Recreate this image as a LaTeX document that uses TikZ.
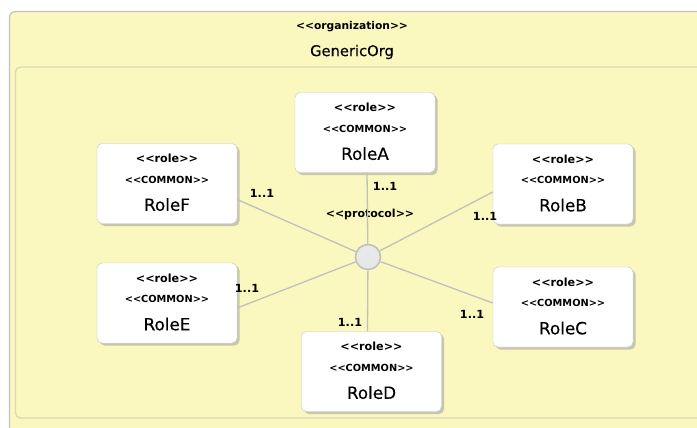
\documentclass[tikz,border=0pt]{standalone}
\usepackage{fontspec}
\setmainfont{DejaVu Sans}
\newfontfamily\medfont{DejaVu Sans}[FakeBold=0.3]
\usetikzlibrary{shadows}

\definecolor{orgfill}{RGB}{250,248,190}
\definecolor{orgline}{RGB}{192,192,188}
\definecolor{innerline}{RGB}{218,216,182}
\definecolor{connline}{RGB}{192,192,188}
\definecolor{hubfill}{RGB}{232,232,232}
\definecolor{boxline}{RGB}{200,200,200}

% angle-bracket stereotype, kept as separate characters
\newcommand{\stype}[1]{<\kern0pt<\kern0pt#1\kern0pt>\kern0pt>}

\tikzset{
  rolebox/.style={draw=boxline, fill=white, rounded corners=5pt,
    minimum width=140pt, minimum height=80pt, inner sep=0pt,
    drop shadow={shadow xshift=2.5pt, shadow yshift=-2.5pt, fill=black!35, opacity=0.6}},
  stereo/.style={font=\fontsize{11.2}{13}\selectfont\bfseries, anchor=base, inner sep=0pt},
  kindtag/.style={font=\fontsize{9.8}{12}\selectfont\bfseries, anchor=base, inner sep=0pt},
  rolename/.style={font=\fontsize{16.8}{20}\selectfont\medfont, anchor=base, inner sep=0pt},
  mult/.style={font=\fontsize{11.2}{13}\selectfont\bfseries, inner sep=0pt},
  connector/.style={draw=connline, line width=1.3pt},
  hubnode/.style={circle, draw=connline, fill=hubfill, line width=1.6pt, minimum size=25pt, inner sep=0pt},
}

% a role box with its stereotype, tag and name
\newcommand{\rolenode}[3]{%
  \node[rolebox] (#1) at (#2) {};
  \node[stereo] (#1-s) at ([yshift=-19.5pt]#1.north) {\stype{role}};
  \node[kindtag] (#1-k) at ([yshift=-40pt]#1.north) {\stype{COMMON}};
  \node[rolename] (#1-n) at ([yshift=-67.5pt]#1.north) {#3};
}

\begin{document}
\begin{tikzpicture}[x=1pt, y=-1pt]
  \useasboundingbox (0,0) rectangle (697,428);
  \clip (0,0) rectangle (697,428);
  \fill[white] (0,0) rectangle (697,428);

  % organization frame
  \draw[orgline, fill=orgfill, line width=1.2pt, rounded corners=6pt] (9.5,11.5) rectangle (720,445);
  \draw[innerline, line width=1.4pt, rounded corners=5pt] (15.5,67) rectangle (715,418);
  \node[font=\fontsize{10.7}{13}\selectfont\bfseries] (orgstereo) at (352,27) {\stype{organization}};
  \node[font=\fontsize{14.7}{17}\selectfont\medfont] (orgname) at (352,52) {GenericOrg};

  % protocol hub
  \node[hubnode] (hub) at (368,257) {};
  \node[mult, font=\fontsize{11}{13}\selectfont\bfseries] (proto) at (370,214) {\stype{protocol}};

  % roles
  \rolenode{A}{365,132.5}{RoleA}
  \rolenode{F}{167,183.5}{RoleF}
  \rolenode{E}{167,303}{RoleE}
  \rolenode{D}{371.5,371.5}{RoleD}
  \rolenode{B}{563,184}{RoleB}
  \rolenode{C}{563,307}{RoleC}

  % connectors
  \draw[connector] (hub) -- ([xshift=2pt]A.south);
  \draw[connector] (hub) -- ([yshift=-16pt]F.east);
  \draw[connector] (hub) -- ([yshift=-5pt]E.east);
  \draw[connector] (hub) -- ([xshift=-4pt]D.north);
  \draw[connector] (hub) -- ([yshift=-8pt]B.west);
  \draw[connector] (hub) -- ([yshift=4pt]C.west);

  % multiplicities
  \node[mult] (mA) at (385,186) {1..1};
  \node[mult] (mF) at (262,193) {1..1};
  \node[mult] (mE) at (247,288) {1..1};
  \node[mult] (mB) at (485,216) {1..1};
  \node[mult] (mC) at (472,314) {1..1};
  \node[mult] (mD) at (350,322) {1..1};
\end{tikzpicture}
\end{document}
